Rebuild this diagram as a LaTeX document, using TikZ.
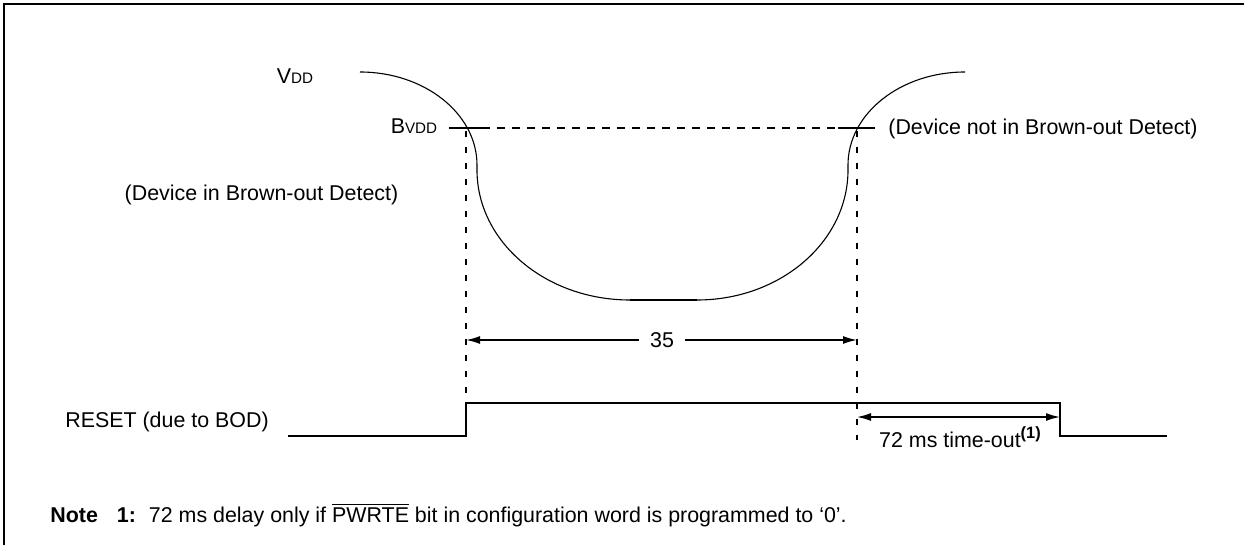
\documentclass[tikz,border=0pt]{standalone}
\usepackage{fontspec}
\setmainfont{Liberation Sans}
\usetikzlibrary{arrows.meta}
\tikzset{
  lbl/.style={font=\fontsize{10.7}{12.8}\selectfont, inner sep=0pt},
  frame/.style={line width=1pt},
  wave/.style={line width=0.55pt},
  sig/.style={line width=0.9pt},
  hdash/.style={line width=0.7pt, dash pattern=on 4pt off 3.5pt},
  vdash/.style={line width=0.8pt, dash pattern=on 3pt off 5pt},
  dim/.style={line width=0.8pt, -{Latex[length=7pt,width=4pt]}},
}
\newcommand{\smallc}[1]{{\fontsize{7.6}{9}\selectfont #1}}
\begin{document}
\begin{tikzpicture}[x=0.5pt,y=-0.5pt]
\useasboundingbox (0,0) rectangle (1244,545);
% frame (only top and left edges visible)
\draw[frame] (4,545) -- (4,4) -- (1244,4);

% labels
\node[lbl] (vdd) at (295,76) {V\smallc{DD}};
\node[lbl] (bvdd) at (414,126) {B\smallc{VDD}};
\node[lbl] (din) at (261.5,195) {(Device in Brown-out Detect)};
\node[lbl] (dnot) at (1043,129) {(Device not in Brown-out Detect)};
\node[lbl] (reset) at (167,422) {RESET (due to BOD)};

% VDD waveform
\coordinate (w0) at (360,72);
\coordinate (w1) at (477,165);
\coordinate (w2) at (477,170);
\coordinate (w3) at (630,300);
\coordinate (w4) at (697,300);
\coordinate (w5) at (848,170);
\coordinate (w6) at (848,165);
\coordinate (w7) at (965,72);
\draw[wave] (w0) .. controls (424.6,72) and (477,113.7) .. (w1) -- (w2)
  .. controls (477,241.8) and (545.5,300) .. (w3) -- (w4)
  .. controls (780.4,300) and (848,241.8) .. (w5) -- (w6)
  .. controls (848,113.7) and (900.4,72) .. (w7);
\draw[line width=1pt] (w3) -- (w4);

% BVDD threshold
\coordinate (t0) at (449,128);
\coordinate (t1) at (482,128);
\coordinate (t2) at (838,128);
\coordinate (t3) at (875,128);
\draw[sig] (t0) -- (t1);
\draw[hdash] (t1) -- (t2);
\draw[sig] (t2) -- (t3);

% vertical dashed markers
\coordinate (vl0) at (466,131);
\coordinate (vl1) at (466,403);
\coordinate (vr0) at (857,131);
\coordinate (vr1) at (857,440);
\draw[vdash] (vl0) -- (vl1);
\draw[vdash] (vr0) -- (vr1);

% 35 dimension
\coordinate (a35l) at (466,340);
\coordinate (a35r) at (857,340);
\node[lbl, minimum width=45*0.5pt] (n35) at (662,340) {35};
\draw[dim] (n35.west) -- (a35l);
\draw[dim] (n35.east) -- (a35r);

% RESET signal
\coordinate (r0) at (288,436);
\coordinate (r1) at (466,436);
\coordinate (r2) at (466,403);
\coordinate (r3) at (1060,403);
\coordinate (r4) at (1060,436);
\coordinate (r5) at (1167,436);
\draw[sig] (r0) -- (r1) -- (r2) -- (r3) -- (r4) -- (r5);

% 72 ms time-out
\coordinate (a72l) at (857,417);
\coordinate (a72r) at (1060,417);
\draw[dim, {Latex[length=7pt,width=4pt]}-{Latex[length=7pt,width=4pt]}] (a72l) -- (a72r);
\node[lbl] (n72) at (960,437) {72 ms time-out\raisebox{4.5pt}{\fontsize{8.2}{9}\selectfont\bfseries(1)}};

% note
\node[lbl, anchor=west] (note) at (50,515)
  {\textbf{Note}\hspace{9.5pt}\textbf{1:}\hspace{6.5pt}72 ms delay only if $\overline{\mbox{PWRTE}}$ bit in configuration word is programmed to ‘0’.};
\end{tikzpicture}
\end{document}
